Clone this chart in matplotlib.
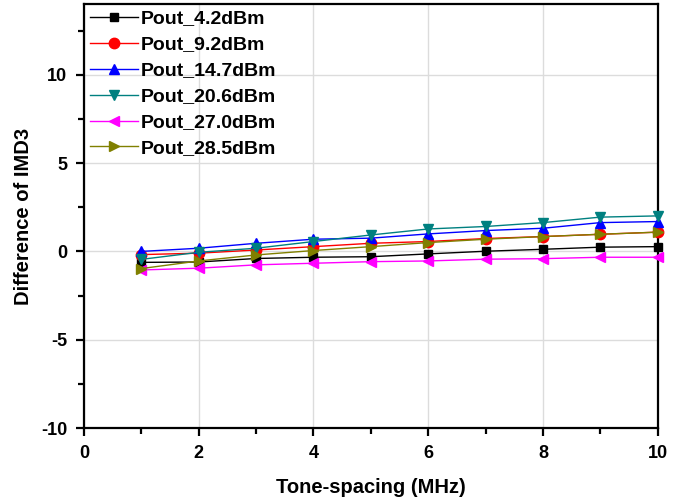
"""
Difference of IMD3 versus tone spacing for several output power levels.
"""
import numpy as np
import matplotlib
matplotlib.use("Agg")
from matplotlib import pyplot as plt
from matplotlib.ticker import MultipleLocator

# Tone spacing (MHz)
tone_spacing = [1, 2, 3, 4, 5, 6, 7, 8, 9, 10]

# Difference of IMD3 for each output power
pout_4_2 = [-0.62, -0.60, -0.40, -0.33, -0.30, -0.14, 0.01, 0.12, 0.24, 0.27]
pout_9_2 = [-0.18, -0.10, 0.08, 0.27, 0.46, 0.56, 0.73, 0.84, 0.97, 1.09]
pout_14_7 = [0.00, 0.18, 0.46, 0.69, 0.75, 0.99, 1.18, 1.31, 1.63, 1.69]
pout_20_6 = [-0.45, -0.05, 0.18, 0.56, 0.93, 1.27, 1.41, 1.63, 1.94, 2.01]
pout_27_0 = [-1.05, -0.95, -0.76, -0.67, -0.58, -0.54, -0.44, -0.41, -0.33, -0.33]
pout_28_5 = [-0.97, -0.54, -0.20, 0.05, 0.27, 0.50, 0.69, 0.84, 0.97, 1.09]

series_labels = ["Pout_4.2dBm", "Pout_9.2dBm", "Pout_14.7dBm",
                 "Pout_20.6dBm", "Pout_27.0dBm", "Pout_28.5dBm"]

plt.rcParams['font.family'] = ['Liberation Sans', 'DejaVu Sans']
plt.rcParams['axes.unicode_minus'] = False

fig = plt.figure(figsize=(6.83, 4.99), dpi=100)
ax = fig.add_axes([0.123, 0.142, 0.840, 0.850])

# Style for each curve: (values, colour, marker)
styles = [
    (pout_4_2, 'black', 's'),
    (pout_9_2, 'red', 'o'),
    (pout_14_7, 'blue', '^'),
    (pout_20_6, '#008080', 'v'),
    (pout_27_0, '#ff00ff', '<'),
    (pout_28_5, '#808000', '>'),
]

for (values, color, marker), label in zip(styles, series_labels):
    ms = 5.5 if marker == 's' else 7.5
    ax.plot(tone_spacing, values, color=color, marker=marker, markersize=ms,
            linewidth=1.0, label=label, clip_on=False, zorder=3)

ax.set_xlim(0, 10)
ax.set_ylim(-10, 14)
ax.xaxis.set_major_locator(MultipleLocator(2))
ax.xaxis.set_minor_locator(MultipleLocator(1))
ax.set_yticks([-10, -5, 0, 5, 10])
ax.yaxis.set_minor_locator(MultipleLocator(2.5))

ax.grid(True, which='major', color='#dcdcdc', linewidth=1.0)
ax.set_axisbelow(True)

for spine in ax.spines.values():
    spine.set_linewidth(1.6)

ax.tick_params(which='major', direction='out', length=6, width=1.6,
               labelsize=13, pad=6, top=False, right=False)
ax.tick_params(which='minor', direction='out', length=4, width=1.6,
               top=False, right=False)
for lbl in ax.get_xticklabels() + ax.get_yticklabels():
    lbl.set_fontweight('bold')

ax.set_xlabel("Tone-spacing (MHz)", fontsize=14.5, fontweight='bold', labelpad=12)
ax.set_ylabel("Difference of IMD3", fontsize=14.5, fontweight='bold', labelpad=6)

leg = ax.legend(loc='upper left', frameon=False,
                prop={'weight': 'bold', 'size': 14},
                handlelength=2.5, handletextpad=0.1, labelspacing=0.43,
                borderaxespad=0.1, borderpad=0.2)

plt.savefig("out.png", dpi=100)
